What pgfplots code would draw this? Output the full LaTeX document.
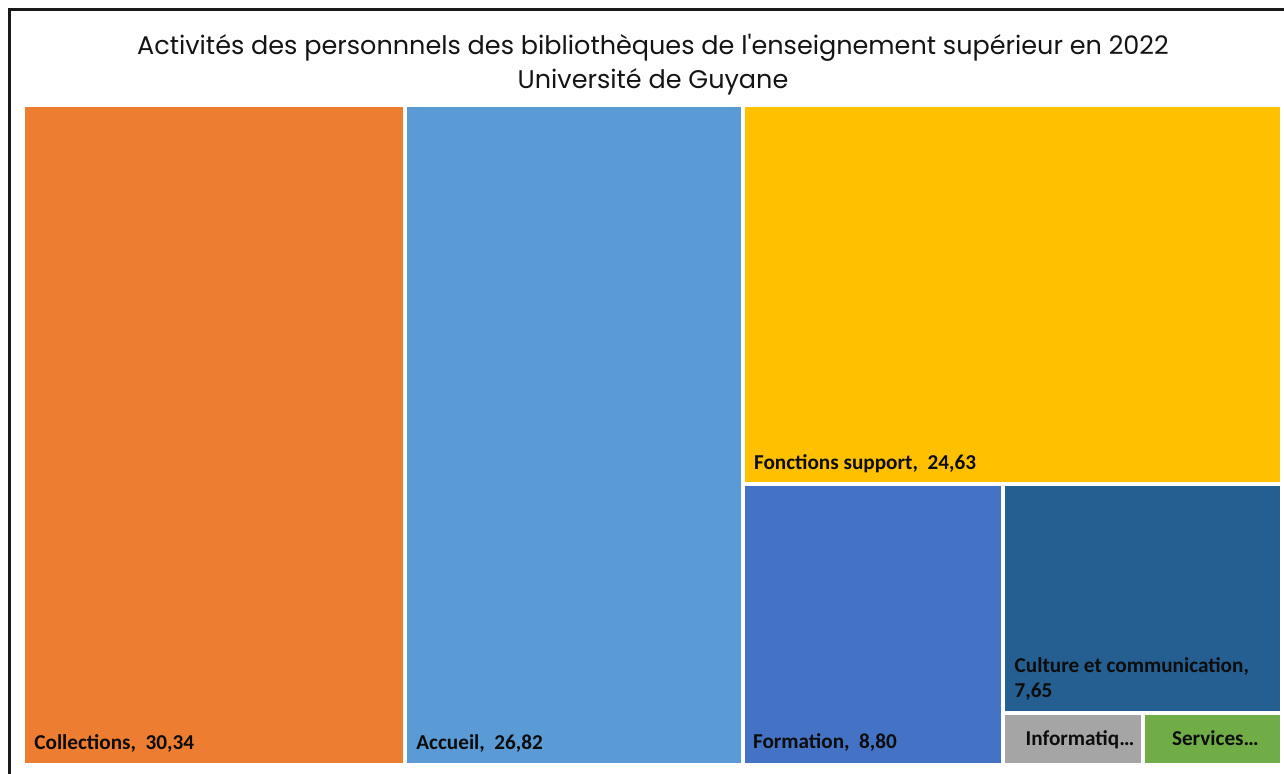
\documentclass[border=0pt]{standalone}
\usepackage{pgfplots}
\pgfplotsset{compat=1.18}
\usepackage{fontspec}
\setmainfont{Carlito}
\newfontfamily\titlefont{Poppins}
\definecolor{cColl}{HTML}{ED7D31}
\definecolor{cAcc}{HTML}{5B9BD5}
\definecolor{cFonc}{HTML}{FFC000}
\definecolor{cForm}{HTML}{4472C4}
\definecolor{cCult}{HTML}{255E91}
\definecolor{cInfo}{HTML}{A5A5A5}
\definecolor{cServ}{HTML}{70AD47}
\tikzset{lbl/.style={anchor=base west, font=\bfseries\fontsize{10.6}{13}\selectfont, text=black!95, inner sep=0pt}}
\begin{document}
\begin{tikzpicture}
\useasboundingbox (0,0) rectangle (642pt,387pt);
\fill[white] (0,0) rectangle (642pt,387pt);
% frame
\draw[line width=1.25pt, black!90] (4.75pt,-5pt) -- (4.75pt,382.25pt) -- (650pt,382.25pt);
% title
\node[anchor=base, font=\titlefont\fontsize{12.75}{16}\selectfont, text=black!92] at (326.5pt,359.5pt) {Activités des personnnels des bibliothèques de l'enseignement supérieur en 2022};
\node[anchor=base, font=\titlefont\fontsize{12.75}{16}\selectfont, text=black!92] at (326.5pt,342.5pt) {Université de Guyane};
\begin{axis}[
  at={(11.5pt,4.5pt)}, anchor=south west,
  width=629.5pt, height=330pt, scale only axis,
  xmin=0, xmax=100, ymin=0, ymax=100,
  hide axis, clip=false,
  every axis plot/.append style={draw=white, line width=2pt, mark=none},
]
% Collections 30.34
\addplot[fill=cColl] coordinates {(0,0) (30.34,0) (30.34,100) (0,100)} -- cycle;
% Accueil 26.82
\addplot[fill=cAcc] coordinates {(30.34,0) (57.16,0) (57.16,100) (30.34,100)} -- cycle;
% Fonctions support 24.63
\addplot[fill=cFonc] coordinates {(57.16,42.507) (100,42.507) (100,100) (57.16,100)} -- cycle;
% Formation 8.80
\addplot[fill=cForm] coordinates {(57.16,0) (77.862,0) (77.862,42.507) (57.16,42.507)} -- cycle;
% Culture et communication 7.65
\addplot[fill=cCult] coordinates {(77.862,7.951) (100,7.951) (100,42.507) (77.862,42.507)} -- cycle;
% Informatique 0.88
\addplot[fill=cInfo] coordinates {(77.862,0) (88.93,0) (88.93,7.951) (77.862,7.951)} -- cycle;
% Services 0.88
\addplot[fill=cServ] coordinates {(88.93,0) (100,0) (100,7.951) (88.93,7.951)} -- cycle;

\node[lbl, xshift=5.5pt, yshift=7.5pt] at (axis cs:0,0) {Collections,\ \ 30,34};
\node[lbl, xshift=5.5pt, yshift=7.5pt] at (axis cs:30.34,0) {Accueil,\ \ 26,82};
\node[lbl, xshift=5.5pt, yshift=7.5pt] at (axis cs:57.16,42.507) {Fonctions support,\ \ 24,63};
\node[lbl, xshift=5pt, yshift=8pt] at (axis cs:57.16,0) {Formation,\ \ 8,80};
\node[lbl, xshift=5.5pt, yshift=20pt] at (axis cs:77.862,7.951) {Culture et communication,};
\node[lbl, xshift=5.5pt, yshift=7.5pt] at (axis cs:77.862,7.951) {7,65};
\node[lbl, xshift=11pt, yshift=9.5pt] at (axis cs:77.862,0) {Informatiq…};
\node[lbl, xshift=14.5pt, yshift=9.5pt] at (axis cs:88.93,0) {Services…};
\end{axis}
\end{tikzpicture}
\end{document}
